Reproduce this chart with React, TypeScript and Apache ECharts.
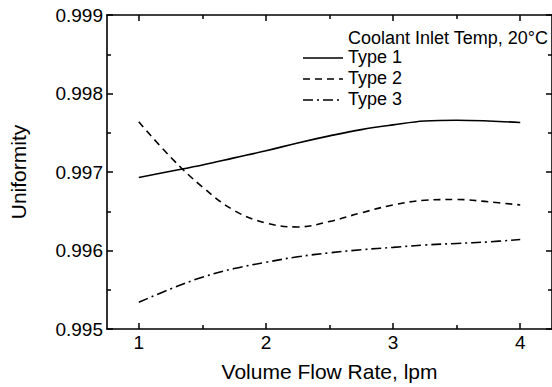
import React, { useEffect, useRef } from "react";
import * as echarts from "echarts";

const flowRates = [1, 1.25, 1.5, 1.75, 2, 2.25, 2.5, 2.75, 3, 3.25, 3.5, 3.75, 4];
const type1 = [0.99693, 0.99701, 0.99709, 0.99718, 0.99727, 0.99737, 0.99746, 0.99754, 0.9976, 0.99765, 0.99766, 0.99765, 0.99763];
const type2 = [0.99764, 0.99719, 0.99681, 0.99651, 0.99635, 0.9963, 0.99637, 0.99648, 0.99658, 0.99664, 0.99665, 0.99662, 0.99658];
const type3 = [0.99534, 0.99551, 0.99566, 0.99577, 0.99585, 0.99592, 0.99597, 0.99601, 0.99604, 0.99607, 0.99609, 0.99611, 0.99614];
const seriesNames = ["Type 1", "Type 2", "Type 3"];
const legendTitle = "Coolant Inlet Temp, 20°C";
const xMajorTicks = [1, 2, 3, 4];
const xMinorTicks = [1.5, 2.5, 3.5];
const xAxisName = "Volume Flow Rate, lpm";
const yAxisName = "Uniformity";

const FONT = "'Liberation Sans', Arial, sans-serif";
const dashes: any[] = ["solid", [7, 5], [10, 4, 2, 4]];

export default function App() {
  const ref = useRef<HTMLDivElement>(null);
  useEffect(() => {
    document.body.style.margin = "0";
    const chart = echarts.init(ref.current!, null, { renderer: "svg" });
    const allSeries = [type1, type2, type3];
    const axisLine = { show: true, lineStyle: { color: "#000", width: 1.6 } };
    const xBase = { type: "value", min: 0.75, max: 4.25, gridIndex: 0, splitLine: { show: false } };
    const legendX0 = 303;
    const legendX1 = 343;
    const legendYs = [58, 79, 100];
    const graphics: any[] = [
      {
        type: "text",
        left: 348,
        top: 29,
        style: { text: legendTitle, font: `18px ${FONT}`, fill: "#000" },
      },
    ];
    seriesNames.forEach((n, i) => {
      graphics.push({
        type: "line",
        shape: { x1: legendX0, y1: legendYs[i], x2: legendX1, y2: legendYs[i] },
        style: { stroke: "#000", lineWidth: 1.6, lineDash: dashes[i] === "solid" ? null : dashes[i] },
      });
      graphics.push({
        type: "text",
        left: 348,
        top: legendYs[i] - 10,
        style: { text: n, font: `18px ${FONT}`, fill: "#000" },
      });
    });
    chart.setOption({
      animation: false,
      backgroundColor: "#fff",
      grid: { left: 95, top: 15, width: 459, height: 322, containLabel: false },
      xAxis: [
        {
          ...xBase,
          position: "bottom",
          name: xAxisName,
          nameLocation: "middle",
          nameGap: 32,
          nameTextStyle: { fontFamily: FONT, fontSize: 21, color: "#000" },
          axisLine,
          axisTick: { show: true, inside: true, length: 6, customValues: xMajorTicks, lineStyle: { color: "#000", width: 1.5 } },
          axisLabel: { show: true, customValues: xMajorTicks, margin: 4, fontFamily: FONT, fontSize: 19, color: "#000" },
        },
        {
          ...xBase,
          position: "bottom",
          axisLine: { show: false },
          axisTick: { show: true, inside: true, length: 4, customValues: xMinorTicks, lineStyle: { color: "#000", width: 1.5 } },
          axisLabel: { show: false },
        },
        {
          ...xBase,
          position: "top",
          axisLine,
          axisTick: { show: true, inside: true, length: 6, customValues: xMajorTicks, lineStyle: { color: "#000", width: 1.5 } },
          axisLabel: { show: false },
        },
        {
          ...xBase,
          position: "top",
          axisLine: { show: false },
          axisTick: { show: true, inside: true, length: 4, customValues: xMinorTicks, lineStyle: { color: "#000", width: 1.5 } },
          axisLabel: { show: false },
        },
      ],
      yAxis: [
        {
          type: "value",
          position: "left",
          min: 0.995,
          max: 0.999,
          interval: 0.001,
          name: yAxisName,
          nameLocation: "middle",
          nameGap: 78,
          nameTextStyle: { fontFamily: FONT, fontSize: 21, color: "#000" },
          axisLine,
          splitLine: { show: false },
          axisTick: { show: true, inside: true, length: 6, lineStyle: { color: "#000", width: 1.5 } },
          minorTick: { show: true, splitNumber: 2, length: 4, lineStyle: { color: "#000", width: 1.5 } },
          axisLabel: {
            margin: 4,
            fontFamily: FONT,
            fontSize: 19,
            color: "#000",
            formatter: (v: number) => v.toFixed(3),
          },
        },
        {
          type: "value",
          position: "right",
          min: 0.995,
          max: 0.999,
          interval: 0.001,
          axisLine,
          splitLine: { show: false },
          axisTick: { show: true, inside: true, length: 6, lineStyle: { color: "#000", width: 1.5 } },
          minorTick: { show: true, splitNumber: 2, length: 4, lineStyle: { color: "#000", width: 1.5 } },
          axisLabel: { show: false },
        },
      ],
      series: allSeries.map((vals, i) => ({
        type: "line",
        name: seriesNames[i],
        xAxisIndex: 0,
        yAxisIndex: 0,
        smooth: 0.4,
        showSymbol: false,
        symbol: "none",
        lineStyle: { color: "#000", width: 1.6, type: dashes[i] },
        data: flowRates.map((x, j) => [x, vals[j]]),
      })),
      graphic: graphics,
    });
    return () => chart.dispose();
  }, []);
  return <div ref={ref} style={{ width: 552, height: 387 }} />;
}
